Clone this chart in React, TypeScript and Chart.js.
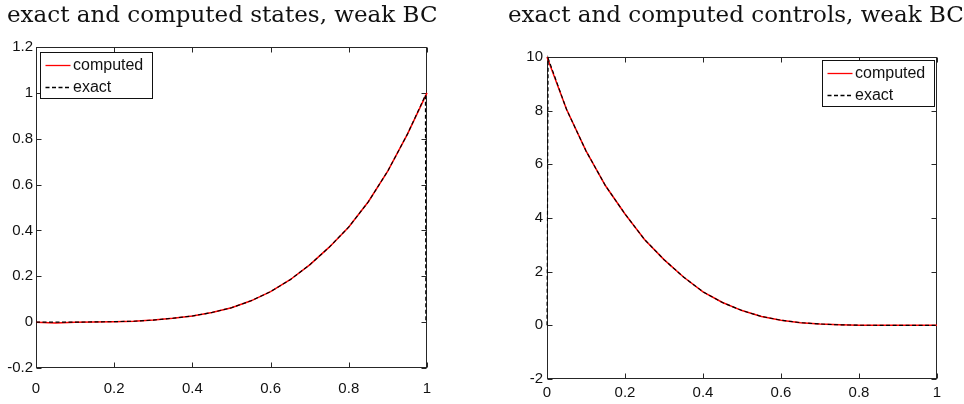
import React, { useEffect, useRef } from "react";
import { Chart, registerables } from "chart.js";
Chart.register(...registerables);

// ---- data ----
const stateX = [0, 0.05, 0.1, 0.15, 0.2, 0.25, 0.3, 0.35, 0.4, 0.45, 0.5, 0.55, 0.6, 0.65, 0.7, 0.75, 0.8, 0.85, 0.9, 0.95, 1];
const stateComputed = [0, -0.004, -0.001, 0.001, 0.002, 0.004, 0.009, 0.017, 0.027, 0.042, 0.063, 0.093, 0.133, 0.185, 0.25, 0.327, 0.415, 0.525, 0.66, 0.82, 1.0];
const stateExactX = [0, 0.05, 0.1, 0.15, 0.2, 0.25, 0.3, 0.35, 0.4, 0.45, 0.5, 0.55, 0.6, 0.65, 0.7, 0.75, 0.8, 0.85, 0.9, 0.95, 0.996, 0.997];
const stateExact = [0, 0, 0, 0.001, 0.002, 0.004, 0.009, 0.017, 0.027, 0.042, 0.063, 0.093, 0.133, 0.185, 0.25, 0.327, 0.415, 0.525, 0.66, 0.82, 0.99, 0];

const controlX = [0, 0.05, 0.1, 0.15, 0.2, 0.25, 0.3, 0.35, 0.4, 0.45, 0.5, 0.55, 0.6, 0.65, 0.7, 0.75, 0.8, 0.85, 0.9, 0.95, 1];
const controlComputed = [10, 8.05, 6.5, 5.2, 4.15, 3.2, 2.45, 1.8, 1.25, 0.85, 0.55, 0.33, 0.19, 0.1, 0.05, 0.02, 0.005, 0, 0, 0, 0];
const controlExactX = [0, 0.003, 0.05, 0.1, 0.15, 0.2, 0.25, 0.3, 0.35, 0.4, 0.45, 0.5, 0.55, 0.6, 0.65, 0.7, 0.75, 0.8, 0.85, 0.9, 0.95, 1];
const controlExact = [0, 9.95, 8.05, 6.5, 5.2, 4.15, 3.2, 2.45, 1.8, 1.25, 0.85, 0.55, 0.33, 0.19, 0.1, 0.05, 0.02, 0.005, 0, 0, 0, 0];

const xTicks = [0, 0.2, 0.4, 0.6, 0.8, 1];
const stateYTicks = [-0.2, 0, 0.2, 0.4, 0.6, 0.8, 1, 1.2];
const controlYTicks = [-2, 0, 2, 4, 6, 8, 10];

const seriesNames = ["computed", "exact"];
const titles = ["exact and computed states, weak BC", "exact and computed controls, weak BC"];

const AXIS = "#262626";
const TICK_FONT = { family: "'Liberation Sans', Arial, sans-serif", size: 15 };
const EXACT_DASH = [4, 2.5];

const pts = (xs: number[], ys: number[]) => xs.map((x, i) => ({ x, y: ys[i] }));

const framePlugin = {
  id: "matlabFrame",
  beforeDatasetsDraw(chart: any) {
    const { ctx, chartArea: a, scales } = chart;
    const L = Math.round(a.left) + 0.5, R = Math.round(a.right) - 0.5;
    const T = Math.round(a.top) + 0.5, B = Math.round(a.bottom) - 0.5;
    ctx.save();
    ctx.strokeStyle = AXIS;
    ctx.lineWidth = 1;
    ctx.strokeRect(L, T, R - L, B - T);
    const tl = 5;
    ctx.beginPath();
    scales.x.ticks.forEach((t: any) => {
      const px = Math.round(scales.x.getPixelForValue(t.value)) + 0.5;
      ctx.moveTo(px, B); ctx.lineTo(px, B - tl);
      ctx.moveTo(px, T); ctx.lineTo(px, T + tl);
    });
    scales.y.ticks.forEach((t: any) => {
      const py = Math.round(scales.y.getPixelForValue(t.value)) + 0.5;
      ctx.moveTo(L, py); ctx.lineTo(L + tl, py);
      ctx.moveTo(R, py); ctx.lineTo(R - tl, py);
    });
    ctx.stroke();
    ctx.restore();
  },
};

const legendPlugin = {
  id: "boxLegend",
  afterDraw(chart: any) {
    const opt = chart.options.plugins.boxLegend;
    if (!opt) return;
    const { ctx, chartArea: a } = chart;
    const w = 112, h = 46;
    const x0 = opt.side === "left" ? Math.round(a.left + 4) + 0.5 : Math.round(a.right - 3 - w) + 0.5;
    const y0 = Math.round(a.top + (opt.side === "left" ? 4.5 : 3)) + 0.5;
    ctx.save();
    ctx.fillStyle = "#fff";
    ctx.fillRect(x0, y0, w, h);
    ctx.strokeStyle = "#111";
    ctx.lineWidth = 1;
    ctx.strokeRect(x0, y0, w, h);
    ctx.font = `16px ${TICK_FONT.family}`;
    ctx.textBaseline = "middle";
    ctx.fillStyle = "#111";
    const rows = [
      { label: seriesNames[0], color: "#ff0000", dash: [] as number[] },
      { label: seriesNames[1], color: "#000", dash: EXACT_DASH },
    ];
    rows.forEach((r, i) => {
      const cy = y0 + 12 + i * 22.5;
      ctx.beginPath();
      ctx.setLineDash(r.dash);
      ctx.strokeStyle = r.color;
      ctx.lineWidth = 1.3;
      ctx.moveTo(x0 + 5, Math.round(cy) + 0.5);
      ctx.lineTo(x0 + 30, Math.round(cy) + 0.5);
      ctx.stroke();
      ctx.setLineDash([]);
      ctx.fillText(r.label, x0 + 32.5, cy + 1);
    });
    ctx.restore();
  },
};

type PanelCfg = {
  computedX: number[]; computed: number[];
  exactX: number[]; exact: number[];
  yTicks: number[]; yMin: number; yMax: number;
  padTop: number; padRight: number; yWidth: number; xHeight: number;
  xPad: number; yPad: number; side: string;
};

function makeChart(canvas: HTMLCanvasElement, c: PanelCfg) {
  return new Chart(canvas, {
    type: "scatter",
    data: {
      datasets: [
        {
          label: seriesNames[1],
          data: pts(c.exactX, c.exact),
          showLine: true,
          borderColor: "#000",
          borderWidth: 1.15,
          borderDash: EXACT_DASH,
          pointRadius: 0,
          fill: false,
          clip: false,
          order: 0,
        } as any,
        {
          label: seriesNames[0],
          data: pts(c.computedX, c.computed),
          showLine: true,
          borderColor: "#ff0000",
          borderWidth: 1.5,
          pointRadius: 0,
          fill: false,
          clip: false,
          order: 1,
        } as any,
      ],
    },
    options: {
      animation: false,
      responsive: false,
      maintainAspectRatio: false,
      events: [],
      layout: { padding: { top: c.padTop, right: c.padRight, left: 0, bottom: 0 } },
      plugins: {
        legend: { display: false },
        title: { display: false },
        tooltip: { enabled: false },
        boxLegend: { side: c.side },
      } as any,
      scales: {
        x: {
          type: "linear",
          min: 0,
          max: 1,
          grid: { display: false, drawTicks: false },
          border: { display: false },
          ticks: {
            autoSkip: false,
            maxRotation: 0,
            padding: c.xPad,
            color: "#111",
            font: TICK_FONT,
            callback: (v: any) => String(+Number(v).toFixed(2)),
          },
          afterBuildTicks: (s: any) => { s.ticks = xTicks.map((v) => ({ value: v })); },
          afterFit: (s: any) => { s.height = c.xHeight; },
        },
        y: {
          type: "linear",
          min: c.yMin,
          max: c.yMax,
          grid: { display: false, drawTicks: false },
          border: { display: false },
          ticks: {
            autoSkip: false,
            padding: c.yPad,
            color: "#111",
            font: TICK_FONT,
            callback: (v: any) => String(+Number(v).toFixed(2)),
          },
          afterBuildTicks: (s: any) => { s.ticks = c.yTicks.map((v) => ({ value: v })); },
          afterFit: (s: any) => { s.width = c.yWidth; },
        },
      },
    } as any,
    plugins: [framePlugin, legendPlugin],
  });
}

export default function App() {
  const leftRef = useRef<HTMLCanvasElement>(null);
  const rightRef = useRef<HTMLCanvasElement>(null);

  useEffect(() => {
    const a = makeChart(leftRef.current!, {
      computedX: stateX, computed: stateComputed,
      exactX: stateExactX, exact: stateExact,
      yTicks: stateYTicks, yMin: -0.2, yMax: 1.2,
      padTop: 47, padRight: 55, yWidth: 36, xHeight: 36,
      xPad: 12, yPad: 3, side: "left",
    });
    const b = makeChart(rightRef.current!, {
      computedX: controlX, computed: controlComputed,
      exactX: controlExactX, exact: controlExact,
      yTicks: controlYTicks, yMin: -2, yMax: 10,
      padTop: 57, padRight: 27, yWidth: 65, xHeight: 25,
      xPad: 5, yPad: 4, side: "right",
    });
    return () => { a.destroy(); b.destroy(); };
  }, []);

  const titleStyle: React.CSSProperties = {
    position: "absolute",
    top: 1,
    fontFamily: "'DejaVu Serif', serif",
    fontSize: 23,
    lineHeight: "normal",
    color: "#111",
    whiteSpace: "nowrap",
  };

  return (
    <div style={{ position: "absolute", left: 0, top: 0, width: 964, height: 404, background: "#fff", overflow: "hidden" }}>
      <canvas ref={leftRef} width={482} height={404} style={{ position: "absolute", left: 0, top: 0 }} />
      <canvas ref={rightRef} width={482} height={404} style={{ position: "absolute", left: 482, top: 0 }} />
      <div style={{ ...titleStyle, left: 7 }}>{titles[0]}</div>
      <div style={{ ...titleStyle, left: 508 }}>{titles[1]}</div>
    </div>
  );
}
